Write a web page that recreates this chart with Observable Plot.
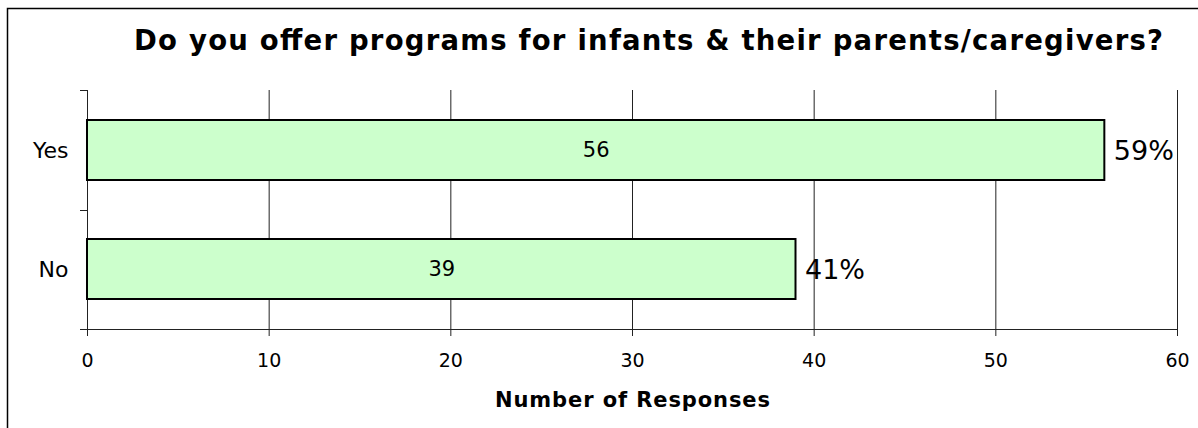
<!DOCTYPE html>
<html>
<head>
<meta charset="utf-8">
<script src="https://cdn.jsdelivr.net/npm/d3@7"></script>
<script src="https://cdn.jsdelivr.net/npm/@observablehq/plot@0.6"></script>
<style>
  html, body { margin: 0; padding: 0; background: #fff; }
  svg { display: block; }
</style>
</head>
<body>
<div id="chart"></div>
<script>
const title = "Do you offer programs for infants & their parents/caregivers?";
const xLabel = "Number of Responses";
const answers = ["Yes", "No"];
const responses = [56, 39];
const percents = ["59%", "41%"];
const xTicks = [0, 10, 20, 30, 40, 50, 60];

const data = answers.map((a, i) => ({answer: a, value: responses[i], pct: percents[i]}));

function categoryFrame(index, scales, values, dimensions) {
  const {width, height, marginTop, marginBottom, marginLeft, marginRight} = dimensions;
  const g = d3.create("svg:g");
  const top = marginTop, bottom = height - marginBottom;
  const n = answers.length;
  for (let k = 0; k <= n; k++) {
    const yy = Math.round(top + (bottom - top) * k / n) + 0.5;
    g.append("line").attr("x1", marginLeft - 7).attr("x2", marginLeft)
      .attr("y1", yy).attr("y2", yy).attr("stroke", "#222");
  }
  g.append("line").attr("x1", marginLeft).attr("x2", width - marginRight)
    .attr("y1", bottom + 0.5).attr("y2", bottom + 0.5).attr("stroke", "#222");
  g.append("rect").attr("x", 7.5).attr("y", 8.5).attr("width", width + 50).attr("height", height + 50)
    .attr("fill", "none").attr("stroke", "#000").attr("stroke-width", 1.5);
  return g.node();
}

function stretch(len) {
  return (index, scales, values, dimensions, context, next) => {
    const g = next(index, scales, values, dimensions, context);
    d3.select(g).selectAll("text").attr("textLength", len).attr("lengthAdjust", "spacing");
    return g;
  };
}

const chart = Plot.plot({
  width: 1198,
  height: 428,
  marginLeft: 87,
  marginRight: 21,
  marginTop: 90,
  marginBottom: 99,
  style: {fontFamily: "'DejaVu Sans', Verdana, sans-serif", color: "#000", background: "#fff", overflow: "visible"},
  x: {domain: [0, 60], ticks: xTicks},
  y: {domain: answers, paddingInner: 0.5, paddingOuter: 0.25},
  marks: [
    Plot.gridX(xTicks, {stroke: "#222", strokeOpacity: 1, strokeWidth: 1}),
    Plot.axisX(xTicks, {tickSize: 7, tickPadding: 17, fontSize: 19, stroke: "#222", label: null}),
    Plot.axisY({tickSize: 0, tickPadding: 19, fontSize: 22, label: null}),
    categoryFrame,
    Plot.barX(data, {x: "value", y: "answer", fill: "#CCFFCC", stroke: "#000", strokeWidth: 2}),
    Plot.text(data, {x: d => d.value / 2, y: "answer", text: d => String(d.value), fontSize: 21, fill: "#000"}),
    Plot.text(data, {x: "value", y: "answer", text: "pct", textAnchor: "start", dx: 9, dy: 1, fontSize: 27, fill: "#000"}),
    Plot.text([title], {frameAnchor: "top", text: d => d, lineAnchor: "bottom", dy: -41, dx: 16, fontSize: 27.5, fontWeight: "bold", fill: "#000", render: stretch(1029)}),
    Plot.text([xLabel], {frameAnchor: "bottom", text: d => d, lineAnchor: "bottom", dy: 77, fontSize: 21, fontWeight: "bold", fill: "#000", render: stretch(275)})
  ]
});
document.getElementById("chart").appendChild(chart);
</script>
</body>
</html>
